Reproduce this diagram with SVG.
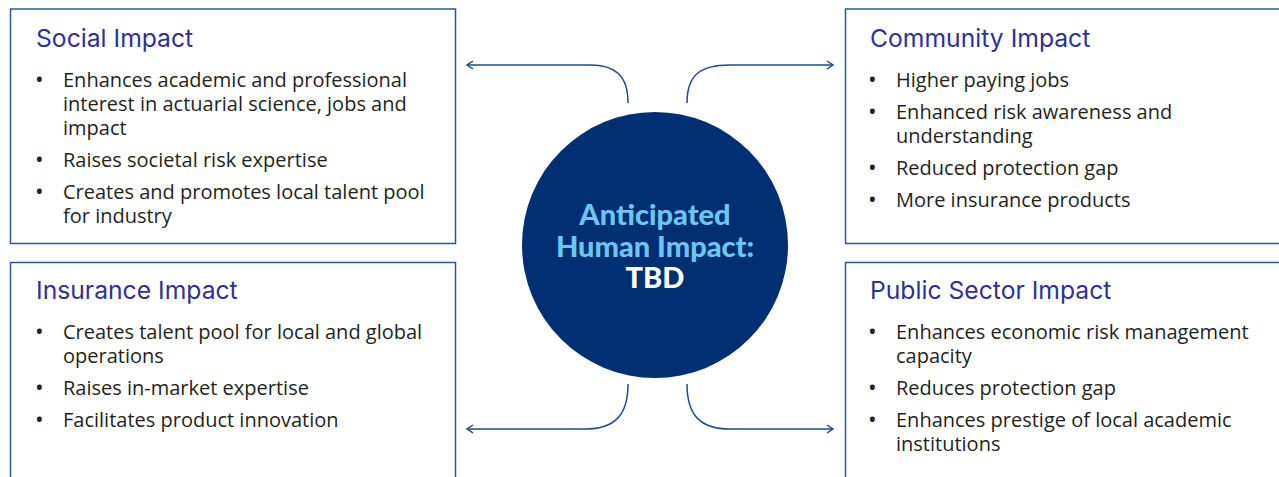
<svg xmlns="http://www.w3.org/2000/svg" width="1279" height="477" viewBox="0 0 1279 477">
<defs>
<style>
.box{fill:#fff;stroke:#2F5599;stroke-width:1.5}
.title{font-family:Inter,"Liberation Sans",sans-serif;font-size:24.7px;fill:#2E3192}
.body{font-family:"Open Sans","Noto Sans",sans-serif;font-size:20px;fill:#231F20}
.b{font-family:"Open Sans","Noto Sans",sans-serif;font-size:23px;fill:#231F20}
.conn{fill:none;stroke:#1E4B8F;stroke-width:1.5}
.ctext{font-family:Lato,"Liberation Sans",sans-serif;font-size:29px;font-weight:900;text-anchor:middle}
</style>
<marker id="arr" viewBox="0 0 10 10" refX="9" refY="5" markerWidth="10" markerHeight="10" markerUnits="userSpaceOnUse" orient="auto">
<path d="M3,1 L9,5 L3,9" fill="none" stroke="#1E4B8F" stroke-width="1.5"/>
</marker>
</defs>
<rect width="1279" height="477" fill="#fff"/>
<g id="connectors">
<path class="conn" d="M628,103 C628,75 615,65 590,65 L467,65" marker-end="url(#arr)"/>
<path class="conn" d="M687,103 C687,75 700,65 730,65 L833,65" marker-end="url(#arr)"/>
<path class="conn" d="M628,384 C628,415 615,429 585,429 L467,429" marker-end="url(#arr)"/>
<path class="conn" d="M687,384 C687,415 700,429 730,429 L833,429" marker-end="url(#arr)"/>
</g>
<g id="social">
<rect class="box" x="10.5" y="9" width="445" height="234.5"/>
<text class="title" x="36" y="47">Social Impact</text>
<g class="b">
<text x="35" y="88">•</text><text x="35" y="168">•</text><text x="35" y="200">•</text>
</g>
<g class="body">
<text x="63" y="87">Enhances academic and professional</text>
<text x="63" y="111">interest in actuarial science, jobs and</text>
<text x="63" y="135">impact</text>
<text x="63" y="167">Raises societal risk expertise</text>
<text x="63" y="199">Creates and promotes local talent pool</text>
<text x="63" y="223">for industry</text>
</g>
</g>
<g id="community">
<rect class="box" x="845.5" y="9" width="440" height="234.5"/>
<text class="title" x="870" y="47">Community Impact</text>
<g class="b">
<text x="868" y="88">•</text><text x="868" y="120">•</text><text x="868" y="176">•</text><text x="868" y="208">•</text>
</g>
<g class="body">
<text x="896" y="87">Higher paying jobs</text>
<text x="896" y="119">Enhanced risk awareness and</text>
<text x="896" y="143">understanding</text>
<text x="896" y="175">Reduced protection gap</text>
<text x="896" y="207">More insurance products</text>
</g>
</g>
<g id="insurance">
<rect class="box" x="10.5" y="262.5" width="445" height="230"/>
<text class="title" x="36" y="299">Insurance Impact</text>
<g class="b">
<text x="35" y="340">•</text><text x="35" y="396">•</text><text x="35" y="428">•</text>
</g>
<g class="body">
<text x="63" y="339">Creates talent pool for local and global</text>
<text x="63" y="363">operations</text>
<text x="63" y="395">Raises in-market expertise</text>
<text x="63" y="427">Facilitates product innovation</text>
</g>
</g>
<g id="public">
<rect class="box" x="845.5" y="262.5" width="440" height="230"/>
<text class="title" x="870" y="299">Public Sector Impact</text>
<g class="b">
<text x="868" y="340">•</text><text x="868" y="396">•</text><text x="868" y="428">•</text>
</g>
<g class="body">
<text x="896" y="339">Enhances economic risk management</text>
<text x="896" y="363">capacity</text>
<text x="896" y="395">Reduces protection gap</text>
<text x="896" y="427">Enhances prestige of local academic</text>
<text x="896" y="451">institutions</text>
</g>
</g>
<g id="center">
<circle cx="655" cy="245" r="133" fill="#002F73"/>
<text class="ctext" x="655" y="225" fill="#6CC6F2">Anticipated</text>
<text class="ctext" x="655" y="257" fill="#6CC6F2">Human Impact:</text>
<text class="ctext" x="655" y="288" fill="#fff">TBD</text>
</g>
</svg>
